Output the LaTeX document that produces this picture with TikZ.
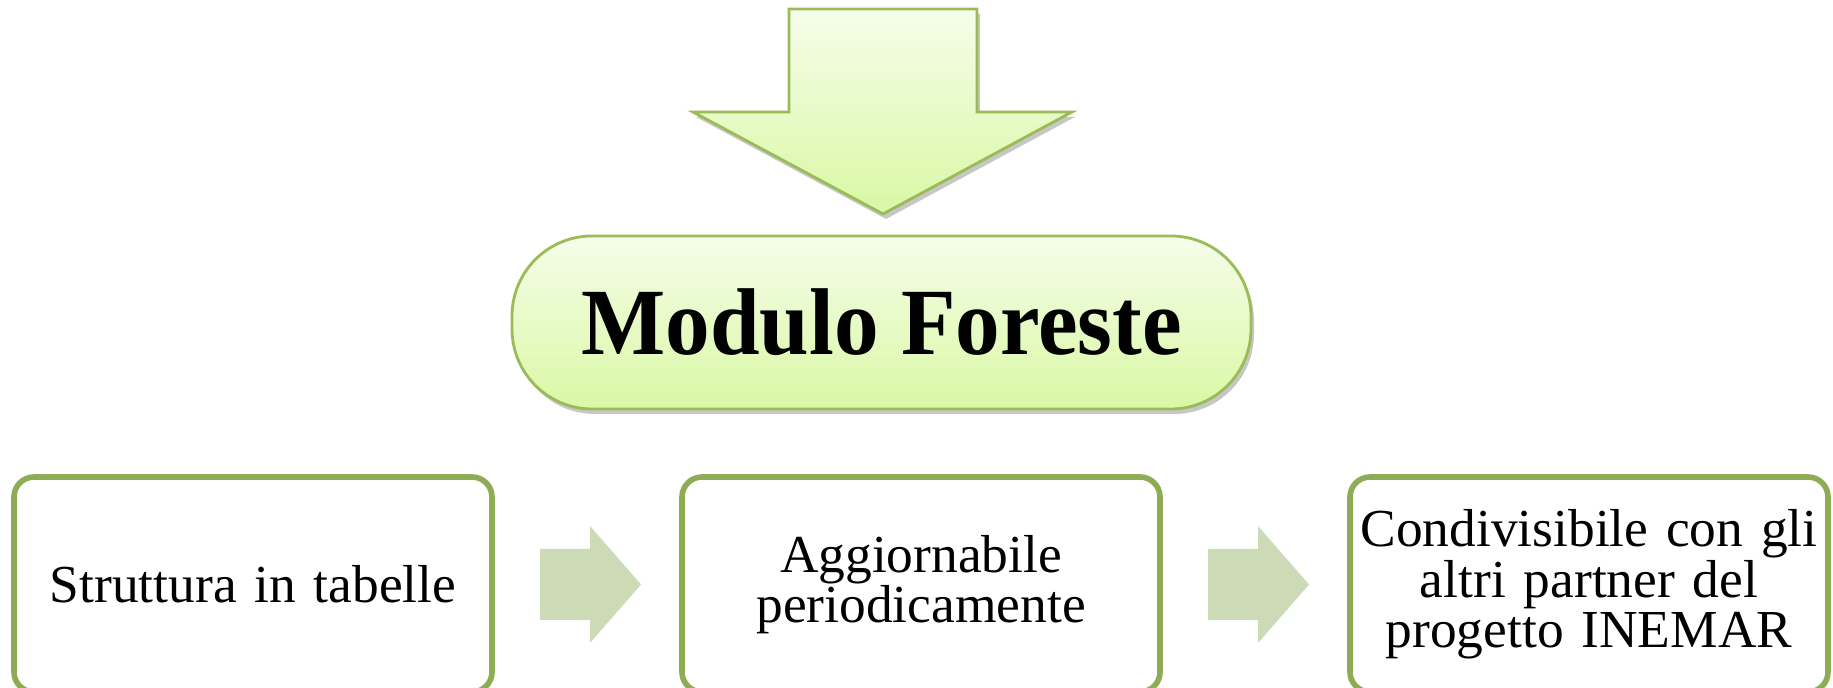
\documentclass[tikz,border=0pt]{standalone}
\usepackage{fontspec}
\setmainfont{Liberation Serif}
\usetikzlibrary{shapes,arrows,positioning,shadows,calc}
\definecolor{bordo}{HTML}{9BBB59}
\definecolor{bordoscuro}{HTML}{8EAB55}
\definecolor{chiaro}{HTML}{F5FDEA}
\definecolor{pieno}{HTML}{D9F8A4}
\definecolor{freccia}{HTML}{CDDAB6}

\begin{document}
\begin{tikzpicture}[node distance=1.9cm]
        \tikzstyle{ombra}=[drop shadow={shadow xshift=0.03cm, shadow yshift=-0.05cm, fill=black, opacity=0.22}]
        \tikzstyle{pillola}=[draw=bordo, thick, rounded corners=0.8cm, top color=chiaro, bottom color=pieno, minimum width=7.39cm, minimum height=1.73cm, ombra]
        \tikzstyle{casella}=[draw=bordoscuro, line width=1.6pt, rounded corners=0.2cm, fill=white, inner sep=0.04cm, outer sep=0pt, minimum width=4.78cm, minimum height=2.15cm, text width=4.7cm, align=center, font=\fontsize{15.2}{14.4}\selectfont]
        \tikzstyle{freccina}=[fill=freccia, draw=none]
        \useasboundingbox (0,0) rectangle (18.33,6.88);
        % freccia grande
        \filldraw[draw=bordo, thick, top color=chiaro, bottom color=pieno, ombra]
            (7.89,6.79) -- (9.77,6.79) -- (9.77,5.76) -- (10.72,5.76) -- (8.83,4.74) -- (6.93,5.76) -- (7.89,5.76) -- cycle;
        \node[pillola] (modulo) at (8.815,3.655) {\bfseries\fontsize{27}{30}\selectfont\scalebox{0.94}[1]{Modulo Foreste}};
        % caselle
        \node[casella] (tabelle) at (2.53,1.035) {Struttura in tabelle};
        \node[casella] (aggiorna) [right=of tabelle] {Aggiornabile\\periodicamente};
        \node[casella] (condivide) [right=of aggiorna] {Condivisibile con gli\\altri partner del\\progetto INEMAR};
        % frecce piccole
        \coordinate (f1) at ($(tabelle.east)+(0.48,0)$);
        \coordinate (f2) at ($(aggiorna.east)+(0.48,0)$);
        \foreach \f in {f1,f2}
            \fill[freccina] (\f) ++(0,0.355) -- ++(0.50,0) -- ++(0,0.23) -- ++(0.51,-0.585) -- ++(-0.51,-0.585) -- ++(0,0.23) -- ++(-0.50,0) -- cycle;
\end{tikzpicture}
\end{document}
